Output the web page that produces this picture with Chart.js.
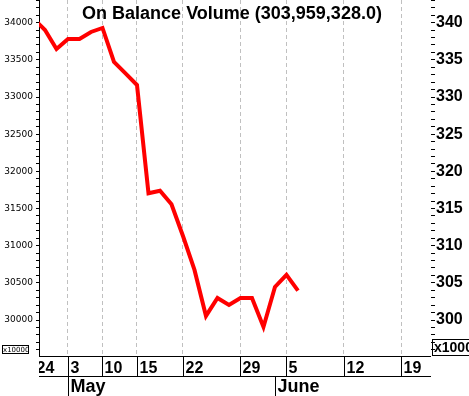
<!DOCTYPE html>
<html>
<head>
<meta charset="utf-8">
<script src="https://cdn.jsdelivr.net/npm/chart.js@4"></script>
<style>
  body { margin: 0; background: #fff; }
  canvas { display: block; }
</style>
</head>
<body>
<canvas id="chart" width="469" height="396"></canvas>
<script>
// OBV per trading day, left axis units (x10000 shares)
const obv = [34056, 33902, 33646, 33781, 33781, 33875, 33929, 33471, 33317, 33162,
  31705, 31740, 31558, 31130, 30674, 30055, 30297, 30203, 30297, 30297,
  29907, 30445, 30607, 30396];
// weekly date labels and the trading-day index they sit on
const dayTicks = [0, 3, 6, 9, 13, 18, 22, 27, 32];
const dayLabels = ['24', '3', '10', '15', '22', '29', '5', '12', '19'];
const monthTicks = [3, 21];
const monthLabels = ['May', 'June'];
const titleText = 'On Balance Volume (303,959,328.0)';

const yMin = 29516, yMax = 34305;

// boxed date rows, title and unit boxes
const decor = {
  id: 'decor',
  afterDraw(chart) {
    const { ctx, chartArea: a, scales: { x } } = chart;
    ctx.save();
    ctx.fillStyle = '#000';
    ctx.strokeStyle = '#000';
    ctx.lineWidth = 1;

    ctx.font = 'bold 18px "Liberation Sans", Arial, sans-serif';
    ctx.textAlign = 'center';
    ctx.fillText(titleText, 232, 19);

    ctx.beginPath();
    ctx.moveTo(a.left, a.bottom + 0.5);
    ctx.lineTo(a.right, a.bottom + 0.5);
    ctx.moveTo(a.left, 376.5);
    ctx.lineTo(a.right, 376.5);
    ctx.stroke();

    ctx.save();
    ctx.beginPath();
    ctx.rect(a.left, a.bottom, a.right - a.left, 396 - a.bottom);
    ctx.clip();
    ctx.textAlign = 'left';
    ctx.font = 'bold 16px "Liberation Sans", Arial, sans-serif';
    dayTicks.forEach((d, i) => {
      const px = Math.round(x.getPixelForValue(d)) + 0.5;
      ctx.beginPath();
      ctx.moveTo(px, a.bottom);
      ctx.lineTo(px, 376);
      ctx.stroke();
      ctx.fillText(dayLabels[i], px + 2, 373);
    });
    ctx.font = 'bold 18px "Liberation Sans", Arial, sans-serif';
    monthTicks.forEach((d, i) => {
      const px = Math.round(x.getPixelForValue(d)) + 0.5;
      ctx.beginPath();
      ctx.moveTo(px, 376);
      ctx.lineTo(px, 396);
      ctx.stroke();
      ctx.fillText(monthLabels[i], px + 2, 392);
    });
    ctx.restore();

    // unit boxes
    ctx.textAlign = 'left';
    ctx.strokeRect(2.5, 345.5, 26, 8);
    ctx.font = '7px "DejaVu Sans", sans-serif';
    ctx.fillText('x10000', 3, 352);
    ctx.strokeRect(432.5, 339.5, 40, 16);
    ctx.font = 'bold 14px "Liberation Sans", Arial, sans-serif';
    ctx.fillText('x1000000', 434, 352);
    ctx.restore();
  }
};

new Chart(document.getElementById('chart'), {
  type: 'line',
  data: {
    datasets: [{
      data: obv.map((v, i) => ({ x: i, y: v })),
      borderColor: '#ff0000',
      borderWidth: 4,
      pointRadius: 0,
      tension: 0,
      clip: 0,
      yAxisID: 'y'
    }]
  },
  options: {
    responsive: false,
    animation: false,
    layout: { padding: 0 },
    plugins: { legend: { display: false }, tooltip: { enabled: false } },
    scales: {
      x: {
        type: 'linear',
        min: 0.478,
        max: 34.57,
        afterBuildTicks: s => { s.ticks = dayTicks.filter(d => d > 0.478).map(v => ({ value: v })); },
        afterFit: s => { s.height = 40; s.paddingLeft = 0; s.paddingRight = 0; },
        ticks: { display: false },
        grid: { color: '#c0c0c0', lineWidth: 1, drawTicks: false },
        border: { display: false, dash: [4, 3] }
      },
      y: {
        position: 'left',
        min: yMin,
        max: yMax,
        afterBuildTicks: s => {
          const t = [];
          for (let v = 29600; v <= 34300; v += 100) t.push({ value: v });
          s.ticks = t;
        },
        afterFit: s => { s.width = 39; s.paddingTop = 0; s.paddingBottom = 0; },
        ticks: {
          autoSkip: false,
          padding: 3,
          color: '#000',
          font: { family: '"DejaVu Sans", sans-serif', size: 9 },
          callback: v => (v % 500 === 0 ? String(v) : '')
        },
        grid: { drawOnChartArea: false, tickLength: 3, tickColor: '#000' },
        border: { display: true, color: '#000', width: 1 }
      },
      y2: {
        position: 'right',
        min: yMin / 100,
        max: yMax / 100,
        afterBuildTicks: s => {
          const t = [];
          for (let v = 296; v <= 343; v++) t.push({ value: v });
          s.ticks = t;
        },
        afterFit: s => { s.width = 38; s.paddingTop = 0; s.paddingBottom = 0; },
        ticks: {
          autoSkip: false,
          padding: 1,
          color: '#000',
          font: { family: '"Liberation Sans", Arial, sans-serif', size: 16, weight: 'bold' },
          callback: v => (v % 5 === 0 ? String(v) : '')
        },
        grid: { drawOnChartArea: false, tickLength: 4, tickColor: '#000' },
        border: { display: false }
      }
    }
  },
  plugins: [decor]
});
</script>
</body>
</html>
